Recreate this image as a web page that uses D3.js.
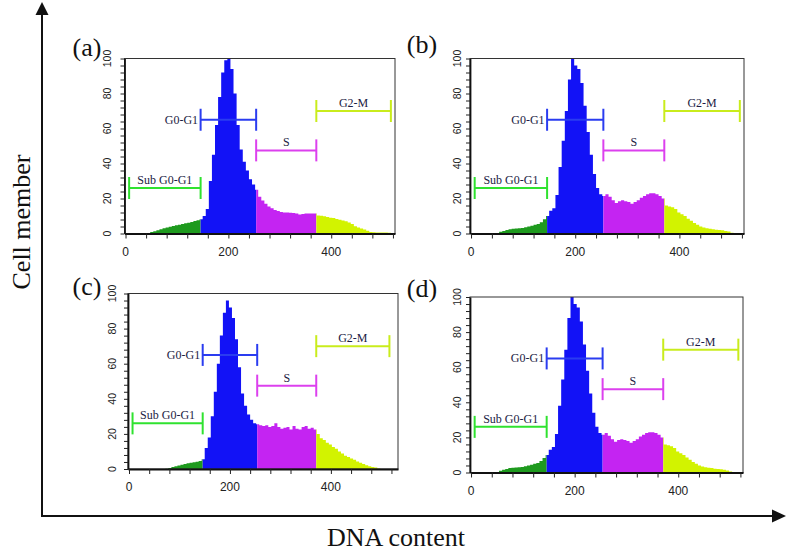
<!DOCTYPE html>
<html><head><meta charset="utf-8">
<script src="https://cdn.jsdelivr.net/npm/d3@7"></script>
<style>html,body{margin:0;padding:0;background:#fff;} svg{display:block;}</style>
</head><body>
<svg id="chart" width="787" height="553"></svg>
<script>
// ---- data ----
const binWidth = 6;
const binStarts = d3.range(0, 528, binWidth);

const countsA = [0,0,0,0,0,0,0,
  0.3,0.8,1.3,1.8,2.4,3,3.4,3.8,4.3,4.7,5,5.4,5.8,6.2,6.6,7.2,7.6,8.2,
  10,14,30,45,62,78,92,99,100,94,80,62,48,41,36,31,28,25,
  21,18.8,17,15.5,14.5,13.5,12.8,12.3,12,12,11.8,11.7,11.5,10.8,11.2,11.5,11.5,11.5,11.5,
  10.3,10.2,9.8,9.5,9,8.8,8.3,7.8,7.4,7,6.3,5.5,4.2,3.4,2.8,2.3,1.6,0.9,0.7,0.6,0.6,0.6,0.6,0.5,0,0];

const countsB = [0,0,0,0,0,0,0,0,
  0.3,1,1.5,2,2.5,2.7,2.9,3,3.2,3.6,4,4.4,5,5.4,6.5,8.2,10,
  13,14.5,22,38,53,70,88,100,96,94,86,73,58,45,34,26,22.5,21.5,
  22.5,21,19,17.5,18.5,19,18.5,18,17,18,19,20.5,21.5,22.5,23,23,22.5,21.5,20,
  16,15.5,15,14,12,11,10,8.5,7.3,6,5,4,3.4,3,2.7,2.5,2.2,2,1.8,1.5,1.2,0.5,0,0,0,0];

const countsC = [0,0,0,0,0,0,0,0,0,0,0,0,
  0.2,0.6,1.1,1.5,2,2.4,2.9,3.3,3.6,3.8,4.1,4.5,5.5,
  12,18,30,44,60,76,89,96,92,86,74,58,43,36,31,28,26,25.5,
  25,24.5,25,24,24.5,26,24,23,23.5,24,22.5,24.5,23,22.5,24,24.5,23,23.5,22.5,
  20,17.5,16.5,15,14,12.5,11.5,10,8.8,7.5,6.8,6,5.2,4.3,3.5,2.8,2.2,1.6,1.2,0.8,0.3,0,0,0,0,0];

const countsD = [0,0,0,0,0,0,0,0,
  0.3,1,1.5,2,2.5,2.7,2.9,3,3.2,3.6,4,4.4,5,5.4,6.5,8.2,10,
  13,14.5,22,38,53,70,88,100,96,94,86,73,58,45,34,26,22.5,21.5,
  22.5,21,19,17.5,18.5,19,18.5,18,17,18,19,20.5,21.5,22.5,23,23,22.5,21.5,20,
  16,15.5,15,14,12,11,10,8.5,7.3,6,5,4,3.4,3,2.7,2.5,2.2,2,1.8,1.5,1.2,0.5,0,0,0,0];

const panelLabels = ["(a)", "(b)", "(c)", "(d)"];
const gateNames = ["Sub G0-G1", "G0-G1", "S", "G2-M"];
const gateStart = [7, 146, 254, 371];
const gateEnd = [146, 254, 371, 516];
const gateLevel = [26, 65, 47.5, 70];

const yTickValues = d3.range(0, 101, 4);
const yTickLabels = [0, 20, 40, 60, 80, 100];
const xTickValues = d3.range(0, 521, 40);
const xTickLabels = [0, 200, 400];

// ---- styles ----
const SERIF = "'Liberation Serif', 'Times New Roman', Times, serif";
const SANS = "'Liberation Sans', Arial, Helvetica, sans-serif";
const fillColors = ["#1e9a1e", "#1212f6", "#c424f2", "#d2f300"];
const gateColors = ["#2fe22f", "#2a3cf0", "#dc40ee", "#c9ec1c"];

const layout = [
  {counts: countsA, xr: [124.5, 395], xd: [-2, 524], yr: [233.5, 58.5], lab: [87, 56], ylx: 107},
  {counts: countsB, xr: [470, 744], xd: [-2, 524], yr: [233.5, 58.5], lab: [422, 53], ylx: 457},
  {counts: countsC, xr: [128, 398], xd: [-2, 533], yr: [469, 293.5], lab: [87, 295], ylx: 112},
  {counts: countsD, xr: [470, 743], xd: [-2, 525], yr: [472.5, 297], lab: [422, 297], ylx: 457}
];

const svg = d3.select("#chart");
const defs = svg.append("defs");

layout.forEach((p, pi) => {
  const x = d3.scaleLinear().domain(p.xd).range(p.xr);
  const y = d3.scaleLinear().domain([0, 100]).range(p.yr);
  const g = svg.append("g");

  const pts = binStarts.map((s, i) => [s, p.counts[i]]);
  pts.push([binStarts[binStarts.length - 1] + binWidth, 0]);
  const area = d3.area().curve(d3.curveStepAfter)
    .x(d => x(d[0])).y0(y(0)).y1(d => y(d[1]));

  defs.append("clipPath").attr("id", `frame-${pi}`).append("rect")
    .attr("x", p.xr[0]).attr("y", p.yr[1]).attr("width", p.xr[1] - p.xr[0]).attr("height", p.yr[0] - p.yr[1]);

  gateNames.forEach((nm, gi) => {
    const a = gi === 0 ? p.xd[0] : gateStart[gi];
    const b = gi === 3 ? p.xd[1] : gateEnd[gi];
    defs.append("clipPath").attr("id", `clip-${pi}-${gi}`).append("rect")
      .attr("x", x(a)).attr("y", p.yr[1]).attr("width", x(b) - x(a)).attr("height", p.yr[0] - p.yr[1]);
    g.append("g").attr("clip-path", `url(#frame-${pi})`)
      .append("path").datum(pts)
      .attr("clip-path", `url(#clip-${pi}-${gi})`)
      .attr("d", area).attr("fill", fillColors[gi]);
  });

  g.append("rect").attr("x", p.xr[0]).attr("y", p.yr[1])
    .attr("width", p.xr[1] - p.xr[0]).attr("height", p.yr[0] - p.yr[1])
    .attr("fill", "none").attr("stroke", "#333").attr("stroke-width", 1);

  const ya = g.append("g").attr("transform", `translate(${p.xr[0]},0)`)
    .call(d3.axisLeft(y).tickValues(yTickValues).tickSize(4).tickSizeOuter(0).tickFormat(""));
  ya.select(".domain").attr("stroke", "#111").attr("stroke-width", 1.8);
  ya.selectAll(".tick line").attr("stroke", "#222").attr("stroke-width", 1);
  g.selectAll(".ylab").data(yTickLabels).join("text")
    .attr("transform", d => `translate(${p.ylx},${y(d)}) rotate(-90)`)
    .attr("text-anchor", "middle").attr("dominant-baseline", "central")
    .style("font-family", SANS).attr("font-size", 10.5)
    .attr("fill", "#222").text(d => d);

  const xa = g.append("g").attr("transform", `translate(0,${p.yr[0]})`)
    .call(d3.axisBottom(x).tickValues(xTickValues).tickSize(5).tickSizeOuter(0).tickFormat(""));
  xa.select(".domain").attr("stroke", "#111").attr("stroke-width", 1.8);
  xa.selectAll(".tick line").attr("stroke", "#222").attr("stroke-width", 1);
  g.selectAll(".xlab").data(xTickLabels).join("text")
    .attr("x", d => x(d)).attr("y", p.yr[0] + 18)
    .attr("text-anchor", "middle").attr("dominant-baseline", "central")
    .style("font-family", SANS).attr("font-size", 12)
    .attr("fill", "#222").text(d => d);

  gateNames.forEach((nm, gi) => {
    const x0 = x(gateStart[gi]), x1 = x(gateEnd[gi]), yy = y(gateLevel[gi]);
    const gg = g.append("g").attr("stroke", gateColors[gi]).attr("stroke-width", 2);
    gg.append("line").attr("x1", x0).attr("x2", x1).attr("y1", yy).attr("y2", yy);
    gg.append("line").attr("x1", x0).attr("x2", x0).attr("y1", yy - 11).attr("y2", yy + 11);
    gg.append("line").attr("x1", x1).attr("x2", x1).attr("y1", yy - 11).attr("y2", yy + 11);
    const t = g.append("text").style("font-family", SERIF)
      .attr("font-size", 12).attr("fill", "#1c1c44").text(nm);
    if (gi === 1) {
      t.attr("x", x0 - 2.5).attr("y", yy + 4).attr("text-anchor", "end");
    } else {
      t.attr("x", (x0 + x1) / 2).attr("y", yy - 4).attr("text-anchor", "middle");
    }
  });

  svg.append("text").attr("x", p.lab[0]).attr("y", p.lab[1])
    .attr("text-anchor", "middle").style("font-family", SERIF)
    .attr("font-size", 26).attr("fill", "#111").text(panelLabels[pi]);
});

// big axes with arrows
svg.append("line").attr("x1", 42).attr("y1", 517).attr("x2", 42).attr("y2", 12)
  .attr("stroke", "#111").attr("stroke-width", 2);
svg.append("path").attr("d", "M42,2 L35.5,15 L48.5,15 Z").attr("fill", "#111");
svg.append("line").attr("x1", 41).attr("y1", 516).attr("x2", 775).attr("y2", 516)
  .attr("stroke", "#111").attr("stroke-width", 2);
svg.append("path").attr("d", "M786,516 L772,509.5 L772,522.5 Z").attr("fill", "#111");

svg.append("text").attr("transform", "translate(21,222) rotate(-90)")
  .attr("text-anchor", "middle").attr("dominant-baseline", "central")
  .style("font-family", SERIF).attr("font-size", 26)
  .attr("fill", "#111").text("Cell member");
svg.append("text").attr("x", 396).attr("y", 546)
  .attr("text-anchor", "middle")
  .style("font-family", SERIF).attr("font-size", 26)
  .attr("fill", "#111").text("DNA content");
</script>
</body></html>
